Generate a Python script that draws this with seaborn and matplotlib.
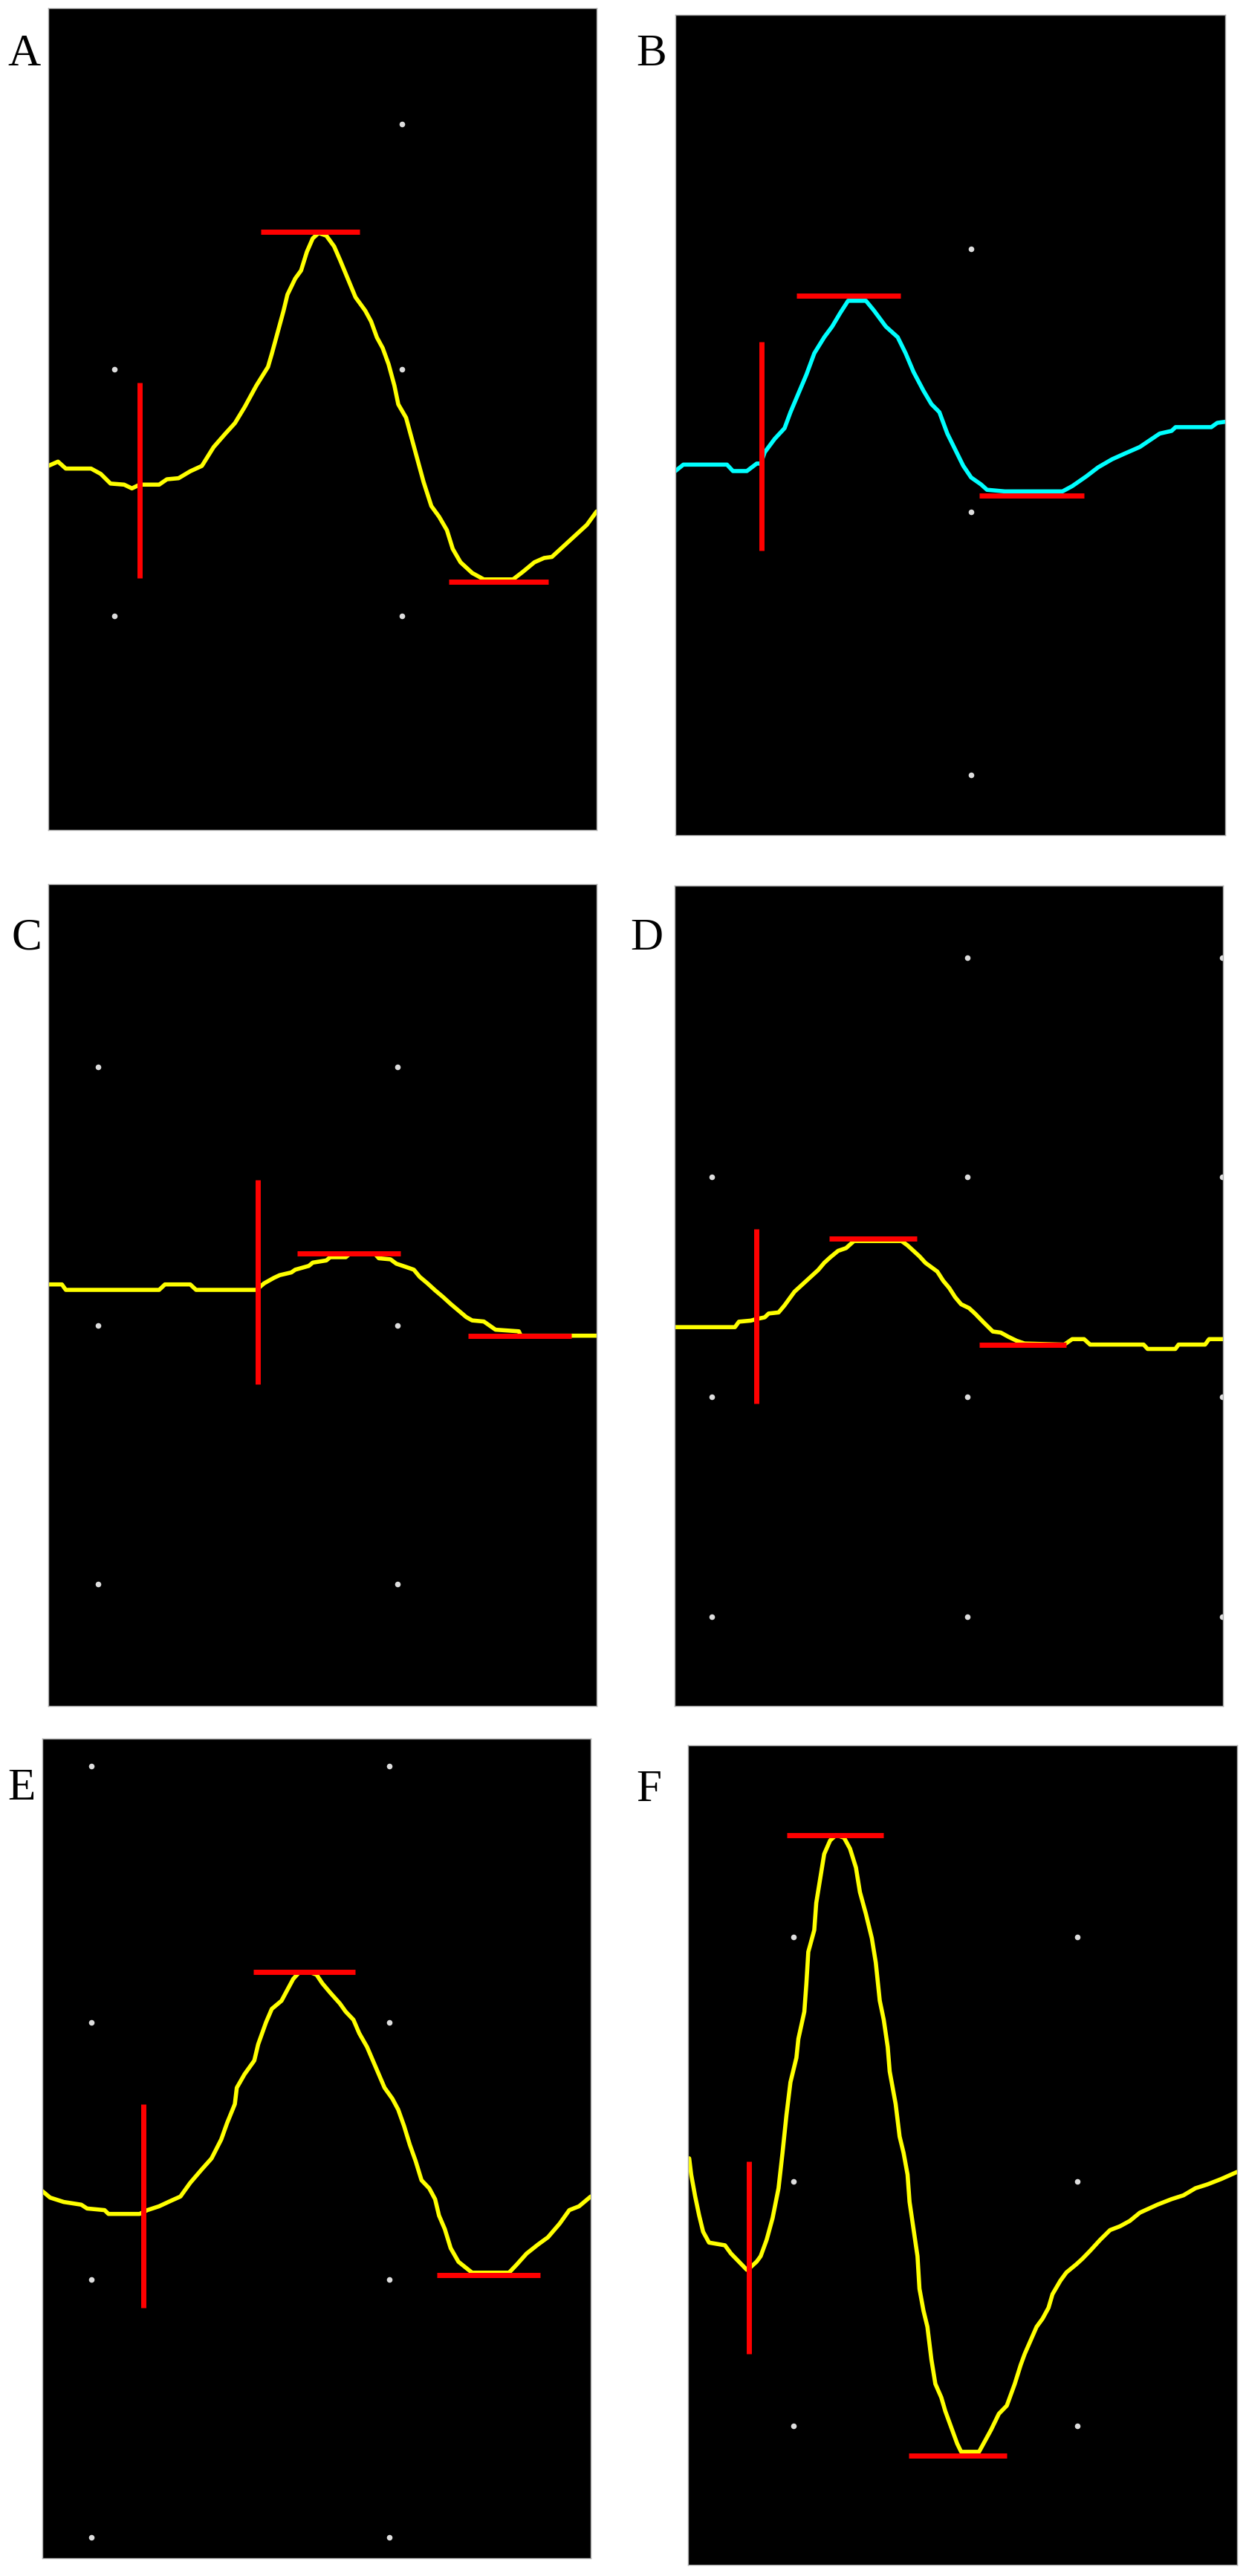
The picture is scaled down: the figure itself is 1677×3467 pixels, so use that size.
import numpy as np
import pandas as pd
import matplotlib
matplotlib.use("Agg")
import matplotlib.pyplot as plt
import seaborn as sns

sns.set_theme(style="dark")
plt.rcParams['font.family'] = ['Liberation Serif', 'DejaVu Serif']

# ---------------- data (panel-local units) ----------------
panel_labels = ["A", "B", "C", "D", "E", "F"]

a_x = [125,150,170,235,260,285,320,340,360,410,430,460,490,520,550,580,605,630,660,690,700,715,730,740,760,775,790,805,820,840,860,875,895,915,940,955,970,985,1000,1015,1025,1045,1060,1075,1090,1110,1130,1150,1165,1185,1215,1245,1320,1345,1375,1400,1420,1450,1480,1510,1535]
a_y = [870,862,875,875,885,903,905,912,905,905,895,893,880,870,835,810,790,760,720,685,660,620,580,550,520,505,470,445,435,440,460,485,520,555,580,600,630,650,680,720,755,780,820,860,900,945,965,990,1025,1050,1070,1082,1082,1068,1050,1042,1040,1020,1000,980,955]

b_x = [130,150,260,275,310,335,345,355,380,405,420,440,460,480,505,525,545,565,610,630,660,690,710,730,755,775,795,815,835,855,875,900,915,960,1105,1130,1165,1195,1230,1260,1300,1330,1350,1380,1390,1440,1480,1495,1515]
b_y = [880,868,868,880,880,866,866,845,820,800,770,735,700,660,630,610,585,562,562,580,610,630,660,695,730,755,770,810,840,870,892,905,915,918,918,908,890,873,858,848,835,820,810,805,798,798,798,790,788]

c_x = [125,160,170,410,425,490,505,660,680,705,720,750,760,795,805,840,850,890,900,965,975,1005,1020,1045,1065,1080,1100,1120,1140,1160,1180,1200,1215,1245,1275,1335,1340,1535]
c_y = [762,762,772,772,762,762,772,772,760,750,745,740,735,728,722,718,712,712,706,706,714,716,724,730,735,748,760,773,785,798,810,822,828,830,845,848,856,856]

d_x = [128,280,290,320,335,355,365,390,405,420,430,445,460,475,490,505,520,540,560,580,700,715,730,745,760,790,805,820,835,850,870,885,905,930,950,970,990,1010,1110,1130,1160,1175,1310,1320,1390,1398,1465,1475,1510]
d_y = [840,840,830,828,825,822,815,813,800,785,775,765,755,745,735,722,712,700,695,682,682,690,700,710,722,738,755,768,785,798,805,815,830,848,850,858,865,870,872,862,862,872,872,880,880,872,872,862,862]

e_x = [110,130,165,210,225,270,280,360,380,410,440,465,490,520,545,570,585,605,610,630,655,665,685,700,725,740,755,770,800,815,830,850,875,890,910,925,945,960,975,990,1010,1025,1040,1055,1070,1085,1105,1120,1130,1145,1160,1180,1215,1310,1330,1355,1385,1410,1440,1465,1490,1520]
e_y = [860,872,880,885,892,895,902,902,895,888,878,870,845,820,800,765,735,700,670,645,620,590,550,525,510,490,470,458,458,462,478,495,515,530,545,570,595,620,645,670,690,710,740,775,805,840,855,875,905,930,965,990,1010,1010,995,975,958,945,920,895,888,870]

f_x = [165,170,180,190,200,215,255,270,290,310,320,335,345,360,375,390,400,410,420,435,440,455,460,465,480,485,495,505,520,535,555,570,585,595,610,625,635,645,655,665,670,685,695,705,715,720,730,740,745,755,765,775,785,800,810,825,840,850,895,910,925,945,965,985,1000,1010,1025,1040,1055,1070,1080,1100,1115,1140,1155,1175,1200,1225,1250,1275,1300,1345,1380,1410,1440,1470,1505,1545]
f_y = [800,830,870,905,935,955,960,975,990,1005,1000,990,980,950,910,855,790,720,660,615,580,530,480,420,380,330,285,240,215,205,210,230,265,310,350,395,440,510,545,595,640,700,760,790,830,880,930,980,1040,1080,1110,1170,1215,1240,1265,1295,1325,1340,1340,1320,1300,1270,1255,1215,1180,1160,1135,1110,1095,1075,1050,1025,1010,995,985,970,950,932,925,915,900,885,875,868,855,848,838,825]

traces_x = [a_x, b_x, c_x, d_x, e_x, f_x]
traces_y = [a_y, b_y, c_y, d_y, e_y, f_y]

# onset markers (vertical): x, y_low, y_high
onset_x  = [360, 347, 663, 334, 370, 316]
onset_y0 = [715, 638, 570, 660, 700, 805]
onset_y1 = [1080, 1028, 945, 980, 1075, 1160]
# peak markers (horizontal): y, x_start, x_end
peak_y  = [433, 553, 705, 678, 457, 205]
peak_x0 = [672, 435, 765, 517, 652, 410]
peak_x1 = [925, 698, 1030, 738, 915, 655]
# trough markers (horizontal)
trough_y  = [1086, 926, 857, 872, 1014, 1347]
trough_x0 = [1155, 895, 1205, 895, 1125, 718]
trough_x1 = [1410, 1160, 1470, 1115, 1390, 965]

# grid dots
dots_x = [
    [1035, 295, 1035, 295, 1035],
    [875, 875, 875],
    [253, 1023, 253, 1023, 253, 1023],
    [866, 1508, 222, 866, 1508, 222, 866, 1508, 222, 866, 1508],
    [237, 1002, 237, 1002, 237, 1002, 237, 1002],
    [427, 1143, 427, 1143, 427, 1143],
]
dots_y = [
    [232, 690, 690, 1150, 1150],
    [465, 957, 1448],
    [363, 363, 838, 838, 1312, 1312],
    [162, 162, 565, 565, 565, 968, 968, 968, 1372, 1372, 1372],
    [78, 78, 550, 550, 1023, 1023, 1497, 1497],
    [393, 393, 843, 843, 1293, 1293],
]

trace_colors = ["#ffff00", "#00ffff", "#ffff00", "#ffff00", "#ffff00", "#ffff00"]

# ---------------- layout ----------------
W, H = 1677, 3467
# panel boxes in pixels: left, top, right, bottom
boxes = [(65, 11, 803, 1117), (909, 20, 1649, 1124),
         (65, 1190, 803, 2296), (908, 1192, 1646, 2296),
         (57, 2340, 795, 3443), (926, 2349, 1665, 3452)]
# axis ranges for each panel (local units)
xlims = [(125, 1535), (130, 1515), (125, 1535), (128, 1510), (110, 1520), (162, 1545)]
ylims = [(1550, 15), (1560, 28), (1535, 28), (1535, 30), (1535, 28), (1548, 40)]
# label positions (left px, baseline px)
label_pos = [(10, 88), (856, 88), (16, 1278), (848, 1278), (10, 2422), (856, 2424)]

fig = plt.figure(figsize=(W / 100, H / 100), dpi=100)
fig.patch.set_facecolor("white")

for i in range(6):
    l, t, r, b = boxes[i]
    ax = fig.add_axes([l / W, 1 - b / H, (r - l) / W, (b - t) / H])
    ax.set_facecolor("black")
    df = pd.DataFrame({"x": traces_x[i], "y": traces_y[i]})
    sns.lineplot(data=df, x="x", y="y", ax=ax, sort=False, estimator=None,
                 color=trace_colors[i], linewidth=4.0, zorder=2)
    dd = pd.DataFrame({"x": dots_x[i], "y": dots_y[i]})
    sns.scatterplot(data=dd, x="x", y="y", ax=ax, color="#dddddd", s=30,
                    marker="o", linewidth=0, zorder=1)
    ax.vlines(onset_x[i], onset_y0[i], onset_y1[i], color="#ff0000", linewidth=5, zorder=3)
    ax.hlines(peak_y[i], peak_x0[i], peak_x1[i], color="#ff0000", linewidth=5, zorder=3)
    ax.hlines(trough_y[i], trough_x0[i], trough_x1[i], color="#ff0000", linewidth=5, zorder=3)
    ax.set_xlim(*xlims[i])
    ax.set_ylim(*ylims[i])
    ax.set_xticks([])
    ax.set_yticks([])
    ax.set_xlabel("")
    ax.set_ylabel("")
    ax.grid(False)
    for sp in ax.spines.values():
        sp.set_visible(True)
        sp.set_color("#aaaaaa")
        sp.set_linewidth(1.0)
    lx, ly = label_pos[i]
    fig.text(lx / W, 1 - ly / H, panel_labels[i], fontsize=44, color="black",
             ha="left", va="baseline", family=['Liberation Serif', 'DejaVu Serif'])

fig.savefig("out.png", dpi=100, facecolor="white")
